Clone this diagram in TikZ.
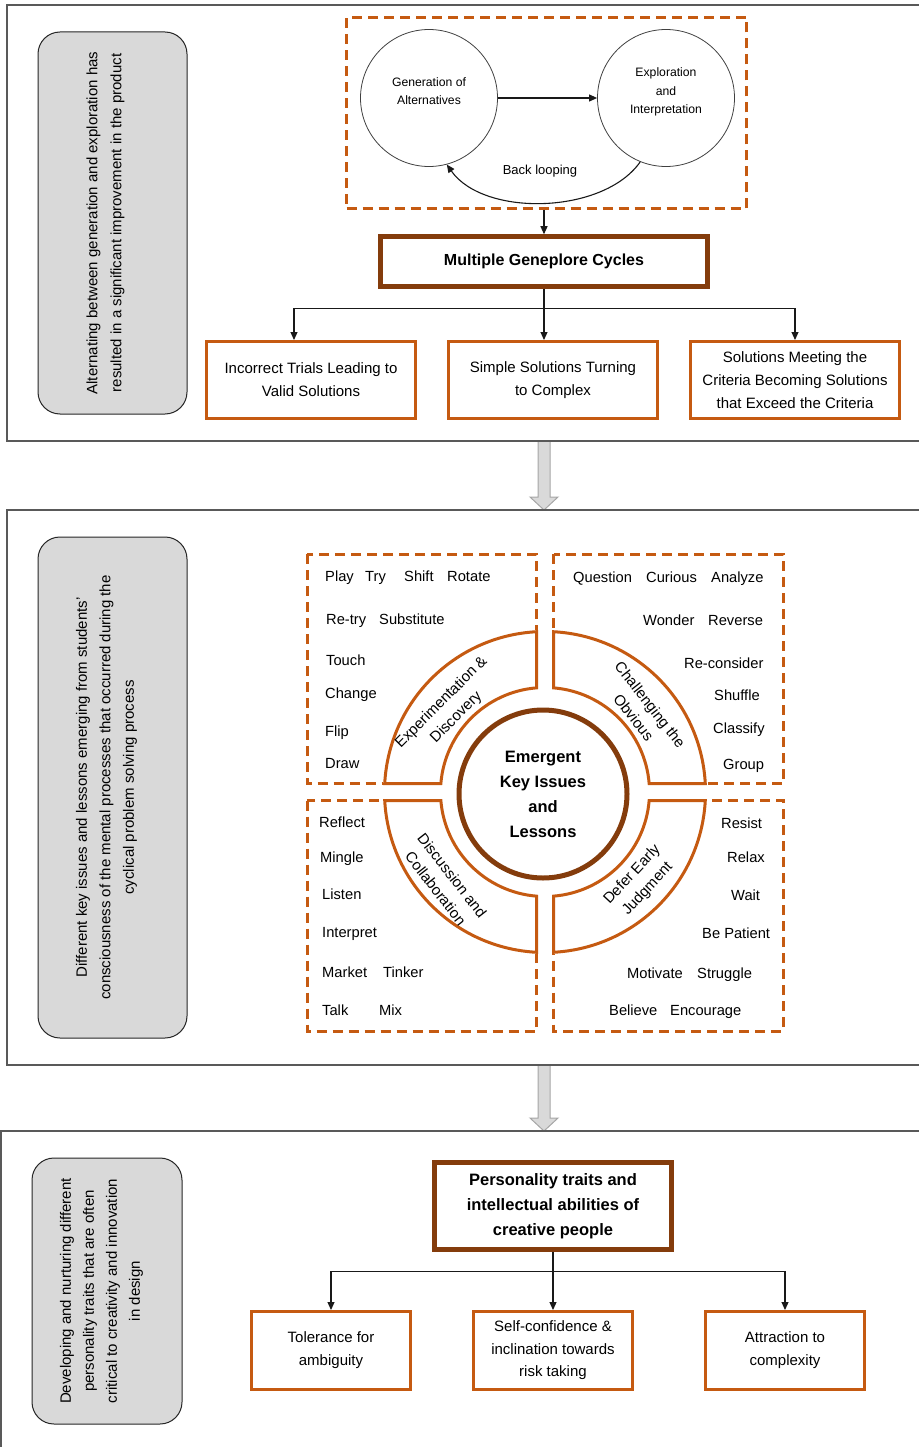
\documentclass[tikz,border=0pt]{standalone}
\usepackage{fontspec}
\setmainfont{Liberation Sans}
\usepackage{tikz}
\usetikzlibrary{arrows.meta,positioning}
\definecolor{rustorange}{RGB}{197,90,17}
\definecolor{darkbrown}{RGB}{132,60,12}
\definecolor{notegray}{RGB}{217,217,217}
\definecolor{framegray}{RGB}{89,89,89}

\tikzset{
  panel/.style={draw=framegray, line width=1.6pt},
  notebox/.style={draw=black!85, fill=notegray, line width=1pt, rounded corners=22pt},
  notetext/.style={align=center, inner sep=0pt, font=\fontsize{15}{24}\selectfont},
  phase/.style={circle, draw=black!75, line width=0.8pt, minimum size=137pt, inner sep=0pt},
  phasetext/.style={align=center, inner sep=0pt, font=\fontsize{12.2}{18.5}\selectfont},
  dashframe/.style={draw=rustorange, line width=3pt, dash pattern=on 10pt off 6pt},
  hubbox/.style={draw=darkbrown, line width=4.5pt, fill=white, align=center,
    font=\bfseries\fontsize{16}{25}\selectfont},
  outbox/.style={draw=rustorange, line width=3pt, fill=white, align=center,
    font=\fontsize{15}{23}\selectfont},
  ringseg/.style={draw=rustorange, line width=3pt},
  ringlabel/.style={align=center, inner sep=0pt, font=\fontsize{15}{21}\selectfont},
  keyword/.style={anchor=base west, inner sep=0pt, font=\fontsize{14.7}{17}\selectfont},
  blockarrow/.style={draw=gray!70, fill=notegray, line width=1pt},
  link/.style={->, line width=1.1pt, black!90},
}

\begin{document}
\begin{tikzpicture}[x=1pt,y=1pt,>={Triangle[length=8pt,width=7pt]}]
  \useasboundingbox (0,0) rectangle (918,-1447);
  \foreach \ya/\yb in {441/510,1065/1131}
    \draw[blockarrow] (538,-\ya) -- (538,{-\yb+13}) -- (530,{-\yb+13}) -- (544,-\yb)
      -- (558,{-\yb+13}) -- (550,{-\yb+13}) -- (550,-\ya);
  \draw[panel] (935,-5) -- (7,-5) -- (7,-441) -- (935,-441);
  \draw[panel] (935,-510) -- (7,-510) -- (7,-1065) -- (935,-1065);
  \draw[panel] (935,-1131) -- (1,-1131) -- (1,-1460);

  \node[notebox, minimum width=382pt, minimum height=149pt, rotate=90] (note1) at (112.5,-223) {};
  \node[notetext, rotate=90] (note1txt) at (105.5,-223)
    {Alternating between generation and exploration has\\resulted in a significant improvement in the product};
  \node[dashframe, minimum width=400pt, minimum height=191pt] (loopframe) at (546.5,-113) {};
  \node[phase] (gen) at (429,-98) {};
  \node[phase] (expl) at (666,-98) {};
  \node[phasetext] (gentxt) at ([yshift=7pt]gen.center) {Generation of\\Alternatives};
  \node[phasetext] (expltxt) at ([yshift=6pt]expl.center) {Exploration\\and\\Interpretation};
  \draw[link] (gen) -- (expl);
  \draw[link] (expl.-112) to[out=235,in=-55,looseness=0.85] (gen.-75);
  \node[font=\fontsize{13}{15}\selectfont] (backlbl) at (540,-171) {Back looping};
  \node[hubbox, minimum width=327pt, minimum height=50pt] (mgc) at (544,-261.5) {Multiple Geneplore Cycles};
  \draw[link] (loopframe.south -| mgc.north) -- (mgc.north);
  \node[outbox, minimum width=209pt, minimum height=77pt] (trials) at (311,-380)
    {Incorrect Trials Leading to\\Valid Solutions};
  \node[outbox, minimum width=209pt, minimum height=77pt] (simple) at (553,-380)
    {Simple Solutions Turning\\to Complex};
  \node[outbox, minimum width=209pt, minimum height=77pt] (exceed) at (795,-380)
    {Solutions Meeting the\\Criteria Becoming Solutions\\that Exceed the Criteria};
  \path (mgc.south) ++(0,-20) coordinate (fork1);
  \draw[link] (mgc.south) -- (mgc.south |- simple.north);
  \draw[link] (fork1) -| ([xshift=-17pt]trials.north);
  \draw[link] (fork1) -| (exceed.north);

  \node[notebox, minimum width=501pt, minimum height=149pt, rotate=90] (note2) at (112.5,-787.5) {};
  \node[notetext, rotate=90, font=\fontsize{15}{23.5}\selectfont] (note2txt) at (106.5,-787.5)
    {Different key issues and lessons emerging from students'\\consciousness of the mental processes that occurred during the\\cyclical problem solving process};
  \foreach \xa/\ya/\xb/\yb in {307/554/536.5/783.5,553.5/554/783/783.5,307/800.5/536.5/1031,553.5/800.5/783/1031}
    \draw[dashframe] (\xa,-\ya) rectangle (\xb,-\yb);
  \begin{scope}[shift={(545,-792)}]
    \fill[white] (0,0) circle[radius=162];
    \foreach \a in {0,90,180,270}
      \draw[ringseg, rotate=\a] (3.04:160.5) arc[start angle=3.04, end angle=86.96, radius=160.5]
        -- (85.33:104.5) arc[start angle=85.33, end angle=4.67, radius=104.5] -- cycle;
  \end{scope}
  \node[circle, draw=darkbrown, line width=5pt, minimum size=168pt, align=center,
    font=\bfseries\fontsize{16.5}{25}\selectfont] (core) at (543,-794) {Emergent\\Key Issues\\and\\Lessons};
  \node[ringlabel, rotate=45] (lblexp) at (449,-710) {Experimentation \&\\Discovery};
  \node[ringlabel, rotate=-52] (lblchal) at (642,-711) {Challenging the\\Obvious};
  \node[ringlabel, rotate=-52] (lbldisc) at (444,-882) {Discussion and\\Collaboration};
  \node[ringlabel, rotate=47] (lbldefer) at (640,-882) {Defer Early\\Judgment};
  \foreach \x/\y/\w [count=\i] in {325/576/Play,365/576/Try,404/576/Shift,447/576/Rotate,
      326/619/Re-try,379/619/Substitute,326/660/Touch,325/693/Change,325/731/Flip,325/763/Draw,
      573/577/Question,646/577/Curious,711/577/Analyze,643/620/Wonder,708/620/Reverse,
      684/663/Re-consider,714/695/Shuffle,713/728/Classify,723/764/Group,
      319/822/Reflect,320/857/Mingle,322/894/Listen,322/932/Interpret,322/972/Market,383/972/Tinker,
      322/1010/Talk,379/1010/Mix,
      721/823/Resist,727/857/Relax,731/895/Wait,702/933/Be Patient,627/973/Motivate,697/973/Struggle,
      609/1010/Believe,670/1010/Encourage}
    \node[keyword] (kw\i) at ({\x},{-\y-5}) {\w};

  \node[notebox, minimum width=266pt, minimum height=150pt, rotate=90] (note3) at (107,-1291) {};
  \node[notetext, rotate=90, font=\fontsize{15}{23}\selectfont] (note3txt) at (101.5,-1291)
    {Developing and nurturing different\\personality traits that are often\\critical to creativity and innovation\\in design};
  \node[hubbox, minimum width=237pt, minimum height=87pt, font=\bfseries\fontsize{16.5}{25}\selectfont]
    (traits) at (553,-1206) {Personality traits and\\intellectual abilities of\\creative people};
  \node[outbox, minimum width=159pt, minimum height=78pt] (tolerance) at (331,-1350.5)
    {Tolerance for\\ambiguity};
  \node[outbox, minimum width=159pt, minimum height=78pt, font=\fontsize{15}{22.5}\selectfont]
    (selfconf) at (553,-1350.5) {Self-confidence \&\\inclination towards\\risk taking};
  \node[outbox, minimum width=159pt, minimum height=78pt] (attraction) at (785,-1350.5)
    {Attraction to\\complexity};
  \path (traits.south) ++(0,-20) coordinate (fork2);
  \draw[link] (traits.south) -- (traits.south |- selfconf.north);
  \draw[link] (fork2) -| (tolerance.north);
  \draw[link] (fork2) -| (attraction.north);
\end{tikzpicture}
\end{document}
